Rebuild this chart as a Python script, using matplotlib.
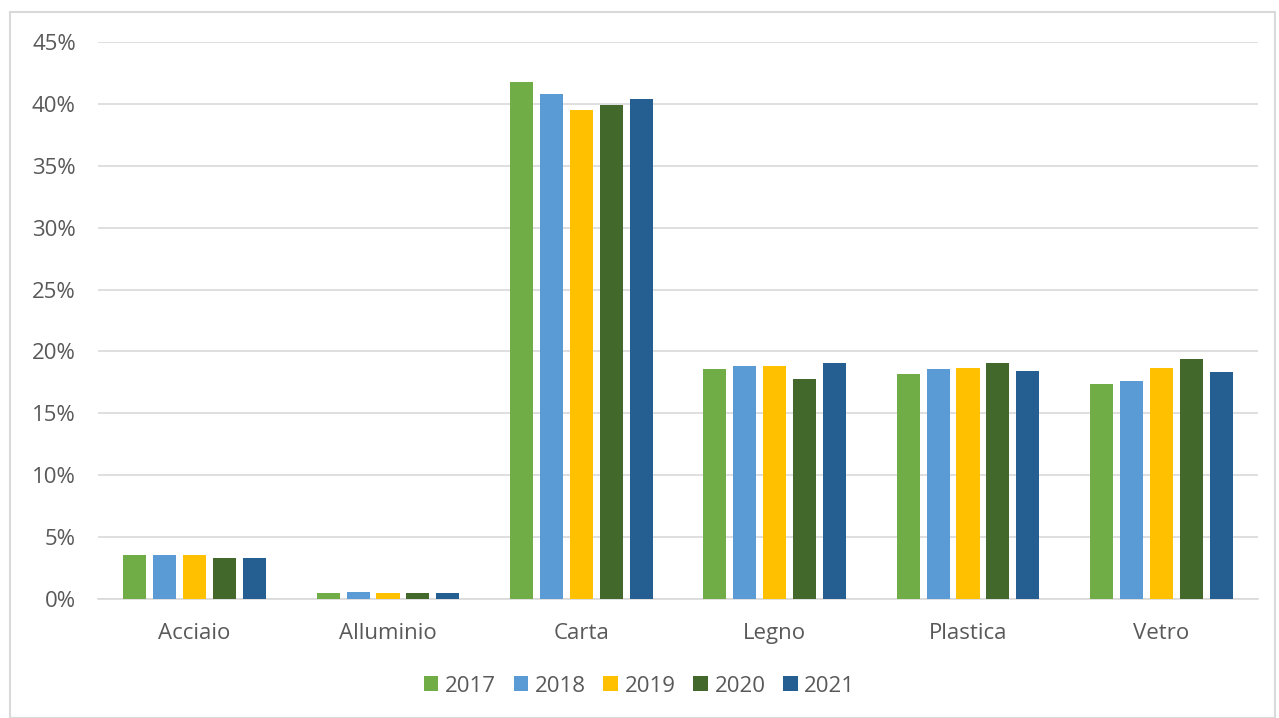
import matplotlib
matplotlib.use("Agg")
import matplotlib.pyplot as plt
import numpy as np
from matplotlib.patches import Rectangle
from matplotlib.ticker import FuncFormatter

# Data
categories = ["Acciaio", "Alluminio", "Carta", "Legno", "Plastica", "Vetro"]
years = ["2017", "2018", "2019", "2020", "2021"]
v2017 = [3.55, 0.45, 41.8, 18.6, 18.2, 17.4]
v2018 = [3.55, 0.57, 40.8, 18.85, 18.6, 17.65]
v2019 = [3.55, 0.45, 39.5, 18.85, 18.7, 18.7]
v2020 = [3.3, 0.45, 39.9, 17.8, 19.1, 19.4]
v2021 = [3.3, 0.45, 40.4, 19.1, 18.45, 18.3]
series = [v2017, v2018, v2019, v2020, v2021]
colors = ["#70AD47", "#5B9BD5", "#FFC000", "#43682B", "#255E91"]

plt.rcParams['font.family'] = ['Open Sans', 'DejaVu Sans']

fig = plt.figure(figsize=(12.79, 7.18), dpi=100)
ax = fig.add_axes([98 / 1279, 1 - 599 / 718, 1160 / 1279, 557 / 718])

x = np.arange(len(categories))
step = 0.155
width = 0.119
for i, (vals, col) in enumerate(zip(series, colors)):
    ax.bar(x + (i - 2) * step, vals, width=width, color=col, label=years[i], zorder=3)

ax.set_xlim(-0.5, len(categories) - 0.5)
ax.set_ylim(0, 45)
ax.set_yticks(np.arange(0, 46, 5))
ax.yaxis.set_major_formatter(FuncFormatter(lambda v, p: f"{v:.0f}%"))
ax.set_xticks(x)
ax.set_xticklabels(categories)
ax.grid(axis='y', color='#D9D9D9', linewidth=1.2, zorder=0)
for s in ['top', 'right', 'left']:
    ax.spines[s].set_visible(False)
ax.spines['bottom'].set_color('#D9D9D9')
ax.spines['bottom'].set_linewidth(1.2)
ax.tick_params(axis='both', length=0, colors='#595959', labelsize=16)
ax.tick_params(axis='y', pad=16)
ax.tick_params(axis='x', pad=17)

fig.legend(loc='center', bbox_to_anchor=(0.5, 1 - 686 / 718), ncol=5, frameon=False,
           fontsize=16, labelcolor='#595959', handlelength=0.65, handleheight=0.65,
           handletextpad=0.3, columnspacing=0.8)

# outer chart border
fig.patches.append(Rectangle((10 / 1279, 0), 1265 / 1279, 1 - 12 / 718, transform=fig.transFigure,
                             fill=False, edgecolor='#D9D9D9', linewidth=1.5))

fig.savefig("out.png", dpi=100)
